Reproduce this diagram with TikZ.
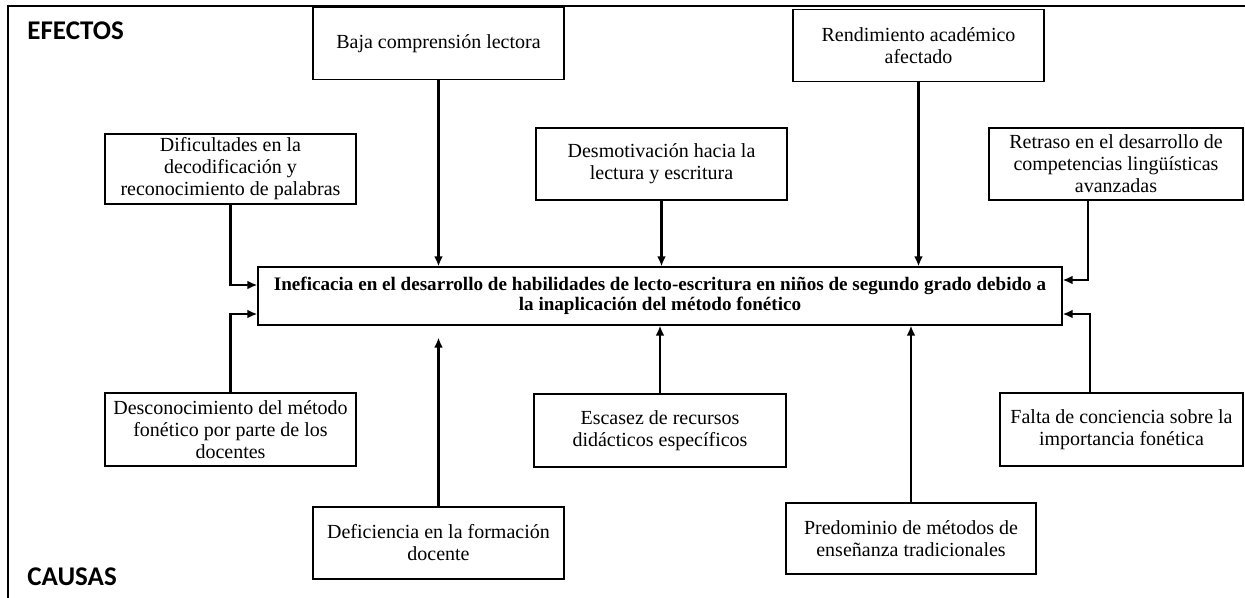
\documentclass[tikz,border=0pt]{standalone}
\usepackage{fontspec}
\setmainfont{Liberation Serif}
\newfontfamily\titlefont{Carlito}
\usetikzlibrary{arrows.meta}
\tikzset{
  caja/.style={draw, line width=0.6pt, align=center, inner sep=0pt,
    minimum width=125.5pt, minimum height=36pt,
    font=\fontsize{10}{11}\selectfont},
  flecha/.style={line width=1.1pt, -{Latex[length=5pt,width=4.4pt]}},
  rotulo/.style={anchor=west, inner sep=0pt, font=\titlefont\bfseries\fontsize{13.5}{15}\selectfont}
}
\begin{document}
\begin{tikzpicture}[x=0.5pt, y=-0.5pt]
\useasboundingbox (0,0) rectangle (1245,598);
\draw[line width=1.1pt] (8,598) -- (8,6) -- (1245,6);
\node[rotulo] (efectos) at (27,31) {EFECTOS};
\node[rotulo] (causas) at (27,577) {CAUSAS};
% problema central
\node[caja, minimum width=402pt, minimum height=29pt,
  font=\bfseries\fontsize{9.55}{10.2}\selectfont] (problema) at (660,296)
  {Ineficacia en el desarrollo de habilidades de lecto-escritura en niños de segundo grado debido a\\
   la inaplicación del método fonético};
% efectos
\node[caja] (baja) at (438.5,43.5) {Baja comprensión lectora};
\node[caja] (rendim) at (918.5,45.5) {Rendimiento académico\\ afectado};
\node[caja, minimum height=35pt] (dificul) at (230.5,169) {Dificultades en la\\ decodificación y\\ reconocimiento de palabras};
\node[caja] (desmot) at (661.5,164) {Desmotivación hacia la\\ lectura y escritura};
\node[caja, minimum width=127pt] (retraso) at (1116,164) {Retraso en el desarrollo de\\ competencias lingüísticas\\ avanzadas};
% causas
\node[caja, minimum height=36.5pt] (descono) at (230.5,429.5) {Desconocimiento del método\\ fonético por parte de los\\ docentes};
\node[caja, minimum width=126pt, minimum height=36.5pt] (escasez) at (660,430.5) {Escasez de recursos\\ didácticos específicos};
\node[caja, minimum width=121.5pt, minimum height=36.5pt] (falta) at (1121.5,429.5) {Falta de conciencia sobre la\\ importancia fonética};
\node[caja] (deficien) at (438.5,543) {Deficiencia en la formación\\ docente};
\node[caja, minimum width=125pt, minimum height=35.5pt] (predom) at (911,538.5) {Predominio de métodos de\\ enseñanza tradicionales};
% flechas
\foreach \n in {baja,rendim,desmot} {
  \draw[flecha] (\n.south) -- (\n.south |- problema.north);
}
\foreach \n in {escasez,predom} {
  \draw[flecha] (\n.north) -- (\n.north |- problema.south);
}
\draw[flecha] (deficien.north) -- ([yshift=-6pt]deficien.north |- problema.south);
\draw[flecha] (dificul.south) |- ([yshift=5.5pt]problema.west);
\draw[flecha] (descono.north) |- ([yshift=-9pt]problema.west);
\draw[flecha] ([xshift=-14pt]retraso.south) |- ([yshift=8pt]problema.east);
\draw[flecha] ([xshift=-15.75pt]falta.north) |- ([yshift=-9pt]problema.east);
\end{tikzpicture}
\end{document}
